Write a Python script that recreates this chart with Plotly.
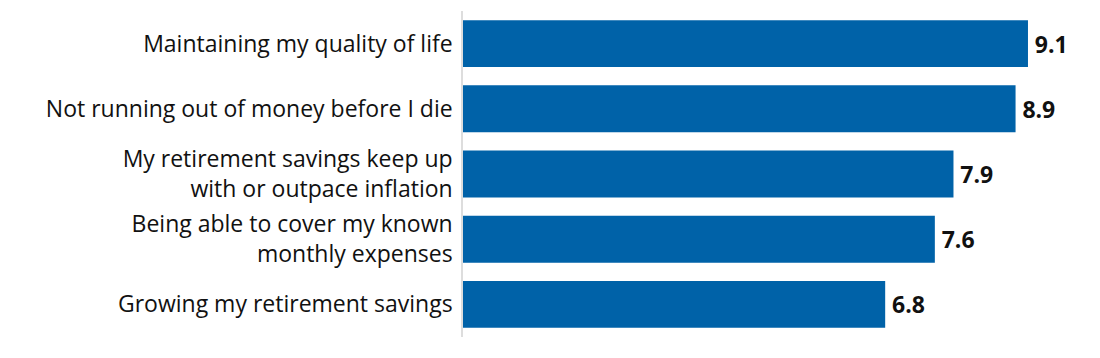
import plotly.graph_objects as go

categories = [
    "Maintaining my quality of life",
    "Not running out of money before I die",
    "My retirement savings keep up<br>with or outpace inflation",
    "Being able to cover my known<br>monthly expenses",
    "Growing my retirement savings",
]
values = [9.1, 8.9, 7.9, 7.6, 6.8]
value_labels = ["9.1", "8.9", "7.9", "7.6", "6.8"]

fig = go.Figure(
    go.Bar(
        x=values,
        y=categories,
        orientation="h",
        marker=dict(color="#0062A8", line=dict(width=0)),
        text=["\u2009" + v for v in value_labels],
        textposition="outside",
        textfont=dict(family="Open Sans", size=23, color="#111111", weight="bold"),
        cliponaxis=False,
        width=0.72,
    )
)

fig.update_layout(
    width=1092,
    height=350,
    margin=dict(l=455, r=0, t=3, b=21, autoexpand=False),
    paper_bgcolor="white",
    plot_bgcolor="white",
    showlegend=False,
    xaxis=dict(range=[0, 10.26], visible=False, fixedrange=True, automargin=False),
    yaxis=dict(
        autorange="reversed",
        automargin=False,
        showline=True,
        linecolor="#dddddd",
        linewidth=1.5,
        showgrid=False,
        ticks="",
        ticklabelstandoff=4,
        tickfont=dict(family="Open Sans", size=23, color="#111111"),
    ),
)

fig.write_html("out.html")
